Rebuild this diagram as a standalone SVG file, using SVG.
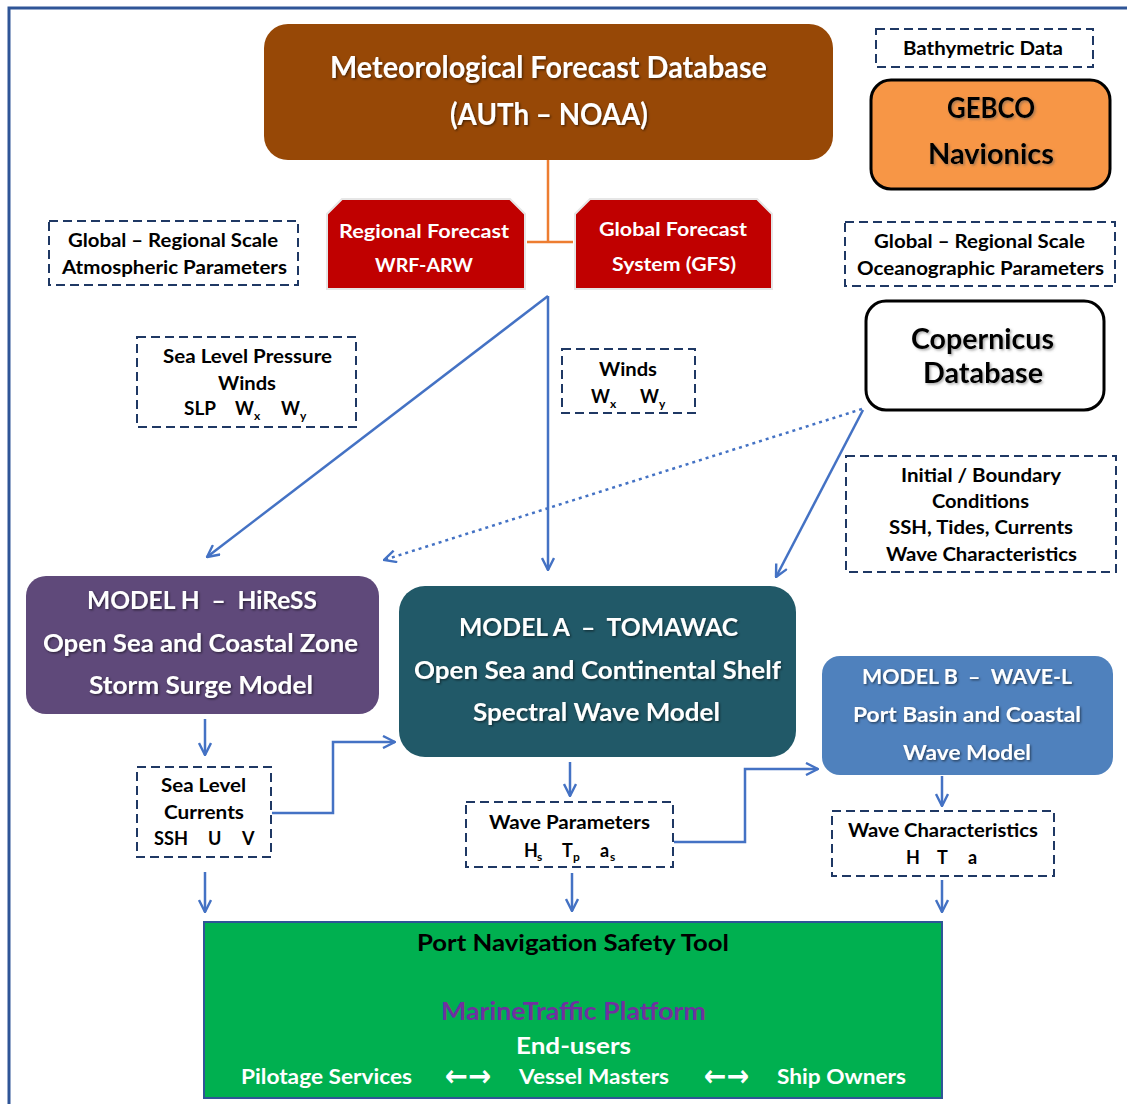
<svg xmlns="http://www.w3.org/2000/svg" width="1127" height="1104" viewBox="0 0 1127 1104">
<defs>
<style>
.t{font-family:Lato,"Open Sans","Liberation Sans",sans-serif;font-weight:bold}
.w{fill:#fff}
.k{fill:#000}
.dash{fill:#fff;stroke:#1F3864;stroke-width:2;stroke-dasharray:9 5}
.c{fill:none;stroke:#4472C4;stroke-width:2.5}
.sh{filter:url(#sh)}
.shg{filter:url(#shg)}
.ar{font-family:"DejaVu Sans",sans-serif;font-weight:bold;fill:#fff}
</style>
<filter id="sh" x="-10%" y="-30%" width="120%" height="160%">
<feDropShadow dx="1.2" dy="1.2" stdDeviation="0.8" flood-color="#000" flood-opacity="0.55"/>
</filter>
<filter id="shg" x="-10%" y="-30%" width="120%" height="160%">
<feDropShadow dx="1.5" dy="1.5" stdDeviation="1" flood-color="#555" flood-opacity="0.5"/>
</filter>
<marker id="arr" viewBox="0 0 14 14" refX="13" refY="7" markerWidth="14" markerHeight="14" markerUnits="userSpaceOnUse" orient="auto">
<path d="M1,1 L13,7 L1,13" fill="none" stroke="#4472C4" stroke-width="2.4"/>
</marker>
</defs>
<rect width="1127" height="1104" fill="#fff"/>
<path d="M9,1104 V8 H1127" fill="none" stroke="#2F5597" stroke-width="3"/>

<g id="connectors">
<path d="M548,160 V242 M527,242 H573" fill="none" stroke="#ED7D31" stroke-width="2.5"/>
<path class="c" d="M548,296 L207,557" marker-end="url(#arr)"/>
<path class="c" d="M548,296 V570" marker-end="url(#arr)"/>
<path class="c" d="M862,409 L384,560" stroke-dasharray="3 4" stroke-width="3.2" marker-end="url(#arr)"/>
<path class="c" d="M863,410 L776,577" marker-end="url(#arr)"/>
<path class="c" d="M205,719 V755" marker-end="url(#arr)"/>
<path class="c" d="M272,813 H333 V742 H395" marker-end="url(#arr)"/>
<path class="c" d="M205,872 V912" marker-end="url(#arr)"/>
<path class="c" d="M570,762 V796" marker-end="url(#arr)"/>
<path class="c" d="M674,842 H745 V769 H818" marker-end="url(#arr)"/>
<path class="c" d="M572,873 V911" marker-end="url(#arr)"/>
<path class="c" d="M942,776 V806" marker-end="url(#arr)"/>
<path class="c" d="M942,880 V912" marker-end="url(#arr)"/>
</g>

<g id="meteo">
<rect x="264" y="24" width="569" height="136" rx="24" fill="#974806"/>
<text class="t w sh" x="330" y="78" font-size="30" textLength="437" lengthAdjust="spacingAndGlyphs">Meteorological Forecast Database</text>
<text class="t w sh" x="450" y="125" font-size="30" textLength="198" lengthAdjust="spacingAndGlyphs">(AUTh – NOAA)</text>
</g>

<g id="bathy">
<rect class="dash" x="876" y="29" width="217" height="38"/>
<text class="t k" x="903" y="55" font-size="18" textLength="160" lengthAdjust="spacingAndGlyphs">Bathymetric Data</text>
</g>

<g id="gebco">
<rect x="871" y="80" width="239" height="109" rx="20" fill="#F79646" stroke="#000" stroke-width="3"/>
<text class="t k shg" x="947" y="118" font-size="28" textLength="88" lengthAdjust="spacingAndGlyphs">GEBCO</text>
<text class="t k shg" x="928" y="164" font-size="28" textLength="126" lengthAdjust="spacingAndGlyphs">Navionics</text>
</g>

<g id="atmo">
<rect class="dash" x="49" y="221" width="249" height="64"/>
<text class="t k" x="68" y="247" font-size="18" textLength="210" lengthAdjust="spacingAndGlyphs">Global – Regional Scale</text>
<text class="t k" x="62" y="274" font-size="18" textLength="225" lengthAdjust="spacingAndGlyphs">Atmospheric Parameters</text>
</g>

<g id="wrf">
<path d="M342,199 H510 L525,214 V289 H327 V214 Z" fill="#C00000" stroke="#E6E6E6" stroke-width="2"/>
<text class="t w" x="339" y="238" font-size="19" textLength="170" lengthAdjust="spacingAndGlyphs">Regional Forecast</text>
<text class="t w" x="375" y="272" font-size="19" textLength="98" lengthAdjust="spacingAndGlyphs">WRF-ARW</text>
</g>

<g id="gfs">
<path d="M590,199 H757 L772,214 V289 H575 V214 Z" fill="#C00000" stroke="#E6E6E6" stroke-width="2"/>
<text class="t w" x="599" y="236" font-size="19" textLength="148" lengthAdjust="spacingAndGlyphs">Global Forecast</text>
<text class="t w" x="612" y="271" font-size="19" textLength="124" lengthAdjust="spacingAndGlyphs">System (GFS)</text>
</g>

<g id="ocean">
<rect class="dash" x="845" y="222" width="270" height="64"/>
<text class="t k" x="874" y="248" font-size="18" textLength="211" lengthAdjust="spacingAndGlyphs">Global – Regional Scale</text>
<text class="t k" x="857" y="275" font-size="18" textLength="247" lengthAdjust="spacingAndGlyphs">Oceanographic Parameters</text>
</g>

<g id="copernicus">
<rect x="866" y="301" width="238" height="109" rx="20" fill="#fff" stroke="#000" stroke-width="3"/>
<text class="t k shg" x="911" y="349" font-size="28" textLength="143" lengthAdjust="spacingAndGlyphs">Copernicus</text>
<text class="t k shg" x="923" y="383" font-size="28" textLength="120" lengthAdjust="spacingAndGlyphs">Database</text>
</g>

<g id="slp">
<rect class="dash" x="137" y="337" width="219" height="90"/>
<text class="t k" x="163" y="363" font-size="18" textLength="169" lengthAdjust="spacingAndGlyphs">Sea Level Pressure</text>
<text class="t k" x="218" y="390" font-size="18" textLength="58" lengthAdjust="spacingAndGlyphs">Winds</text>
<text class="t k" x="184" y="415" font-size="18" textLength="32" lengthAdjust="spacingAndGlyphs">SLP</text>
<text class="t k" x="235" y="415" font-size="18">W</text>
<text class="t k" x="254" y="420" font-size="12">x</text>
<text class="t k" x="281" y="415" font-size="18">W</text>
<text class="t k" x="300" y="420" font-size="12">y</text>
</g>

<g id="winds">
<rect class="dash" x="562" y="349" width="133" height="64"/>
<text class="t k" x="599" y="376" font-size="18" textLength="58" lengthAdjust="spacingAndGlyphs">Winds</text>
<text class="t k" x="591" y="403" font-size="18">W</text>
<text class="t k" x="610" y="408" font-size="12">x</text>
<text class="t k" x="640" y="403" font-size="18">W</text>
<text class="t k" x="659" y="408" font-size="12">y</text>
</g>

<g id="initial">
<rect class="dash" x="846" y="456" width="270" height="116"/>
<text class="t k" x="901" y="482" font-size="18" textLength="160" lengthAdjust="spacingAndGlyphs">Initial / Boundary</text>
<text class="t k" x="932" y="508" font-size="18" textLength="97" lengthAdjust="spacingAndGlyphs">Conditions</text>
<text class="t k" x="889" y="534" font-size="18" textLength="184" lengthAdjust="spacingAndGlyphs">SSH, Tides, Currents</text>
<text class="t k" x="886" y="561" font-size="18" textLength="191" lengthAdjust="spacingAndGlyphs">Wave Characteristics</text>
</g>

<g id="modelH">
<rect x="26" y="576" width="353" height="138" rx="20" fill="#5F497A"/>
<text class="t w sh" x="87" y="609" font-size="24" textLength="230" lengthAdjust="spacingAndGlyphs">MODEL H&#160;&#160;–&#160;&#160;HiReSS</text>
<text class="t w sh" x="43" y="652" font-size="24" textLength="315" lengthAdjust="spacingAndGlyphs">Open Sea and Coastal Zone</text>
<text class="t w sh" x="89" y="694" font-size="24" textLength="224" lengthAdjust="spacingAndGlyphs">Storm Surge Model</text>
</g>

<g id="modelA">
<rect x="399" y="586" width="397" height="171" rx="26" fill="#215968"/>
<text class="t w sh" x="459" y="636" font-size="25" textLength="279" lengthAdjust="spacingAndGlyphs">MODEL A&#160;&#160;–&#160;&#160;TOMAWAC</text>
<text class="t w sh" x="414" y="679" font-size="25" textLength="367" lengthAdjust="spacingAndGlyphs">Open Sea and Continental Shelf</text>
<text class="t w sh" x="473" y="721" font-size="25" textLength="247" lengthAdjust="spacingAndGlyphs">Spectral Wave Model</text>
</g>

<g id="modelB">
<rect x="822" y="656" width="291" height="119" rx="18" fill="#4F81BD"/>
<text class="t w sh" x="862" y="684" font-size="21" textLength="210" lengthAdjust="spacingAndGlyphs">MODEL B&#160;&#160;–&#160;&#160;WAVE-L</text>
<text class="t w sh" x="853" y="722" font-size="21" textLength="228" lengthAdjust="spacingAndGlyphs">Port Basin and Coastal</text>
<text class="t w sh" x="903" y="760" font-size="21" textLength="128" lengthAdjust="spacingAndGlyphs">Wave Model</text>
</g>

<g id="sealevel">
<rect class="dash" x="137" y="767" width="134" height="90"/>
<text class="t k" x="161" y="792" font-size="18" textLength="85" lengthAdjust="spacingAndGlyphs">Sea Level</text>
<text class="t k" x="164" y="819" font-size="18" textLength="80" lengthAdjust="spacingAndGlyphs">Currents</text>
<text class="t k" x="154" y="845" font-size="18" textLength="34" lengthAdjust="spacingAndGlyphs">SSH</text>
<text class="t k" x="208" y="845" font-size="18">U</text>
<text class="t k" x="242" y="845" font-size="18">V</text>
</g>

<g id="waveparams">
<rect class="dash" x="466" y="802" width="207" height="65"/>
<text class="t k" x="489" y="829" font-size="18" textLength="161" lengthAdjust="spacingAndGlyphs">Wave Parameters</text>
<text class="t k" x="524" y="857" font-size="18">H</text>
<text class="t k" x="537" y="861" font-size="12">s</text>
<text class="t k" x="562" y="857" font-size="18">T</text>
<text class="t k" x="573" y="861" font-size="12">p</text>
<text class="t k" x="600" y="857" font-size="18">a</text>
<text class="t k" x="610" y="861" font-size="12">s</text>
</g>

<g id="wavechar">
<rect class="dash" x="832" y="811" width="222" height="65"/>
<text class="t k" x="848" y="837" font-size="18" textLength="190" lengthAdjust="spacingAndGlyphs">Wave Characteristics</text>
<text class="t k" x="906" y="864" font-size="18">H</text>
<text class="t k" x="937" y="864" font-size="18">T</text>
<text class="t k" x="968" y="864" font-size="18">a</text>
</g>

<g id="tool">
<rect x="204" y="922" width="738" height="176" fill="#00B050" stroke="#2F5597" stroke-width="2"/>
<text class="t k" x="417" y="951" font-size="22" textLength="312" lengthAdjust="spacingAndGlyphs">Port Navigation Safety Tool</text>
<text class="t" x="441" y="1020" font-size="24" fill="#7030A0" textLength="265" lengthAdjust="spacingAndGlyphs">MarineTraffic Platform</text>
<text class="t w" x="516" y="1054" font-size="23" textLength="115" lengthAdjust="spacingAndGlyphs">End-users</text>
<text class="t w" x="241" y="1084" font-size="20" textLength="171" lengthAdjust="spacingAndGlyphs">Pilotage Services</text>
<text class="ar" x="445" y="1086" font-size="30" textLength="46" lengthAdjust="spacingAndGlyphs">←→</text>
<text class="t w" x="519" y="1084" font-size="20" textLength="150" lengthAdjust="spacingAndGlyphs">Vessel Masters</text>
<text class="ar" x="704" y="1086" font-size="30" textLength="45" lengthAdjust="spacingAndGlyphs">←→</text>
<text class="t w" x="777" y="1084" font-size="20" textLength="129" lengthAdjust="spacingAndGlyphs">Ship Owners</text>
</g>
</svg>
